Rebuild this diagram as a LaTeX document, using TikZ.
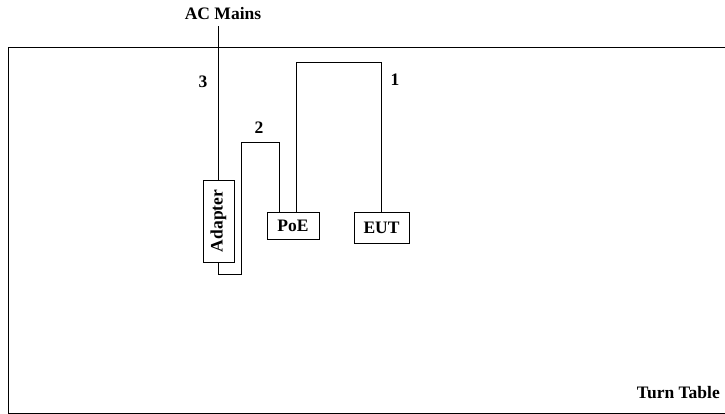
\documentclass[tikz,border=0pt]{standalone}
\usepackage{fontspec}
\setmainfont{Liberation Serif}
\usetikzlibrary{calc}
\begin{document}
\begin{tikzpicture}[
    x=1pt,y=-1pt,
    unit/.style={draw,line width=0.8pt,inner sep=0pt,font=\fontsize{17.5}{20}\selectfont\bfseries},
    tag/.style={font=\fontsize{17.5}{20}\selectfont\bfseries,inner sep=0pt},
    wire/.style={line width=0.8pt}
]
\useasboundingbox (0,0) rectangle (725,414);
% Turn table
\begin{scope}
\clip (0,0) rectangle (725,414);
\draw[line width=1pt] (8,48) rectangle (740,413);
\end{scope}
\node[tag,anchor=east] (table) at (720,393) {Turn Table};

% Equipment
\node[unit,minimum width=31,minimum height=82] (adapter) at (218.5,221) {\rotatebox{90}{Adapter}};
\node[unit,minimum width=52,minimum height=27] (poe) at (293,225.5) {PoE};
\node[unit,minimum width=55,minimum height=31] (eut) at (381.5,227.5) {EUT};
\node[tag] (ac) at (223,14) {AC Mains};

% Cables
\coordinate (top1) at (0,62);
\coordinate (low2) at (241,274);
\coordinate (top2) at (0,142);
\draw[wire] (adapter.north) -- ([yshift=-6]adapter.north |- ac.south);
\draw[wire] (adapter.south) |- (low2) |- ([xshift=-14]poe.north |- top2) -- ([xshift=-14]poe.north);
\draw[wire] ([xshift=3]poe.north) -- ([xshift=3]poe.north |- top1) -| (eut.north);

% Cable numbers
\node[tag] (n1) at (395,80) {1};
\node[tag] (n2) at (259,128) {2};
\node[tag] (n3) at (203,82) {3};
\end{tikzpicture}
\end{document}
